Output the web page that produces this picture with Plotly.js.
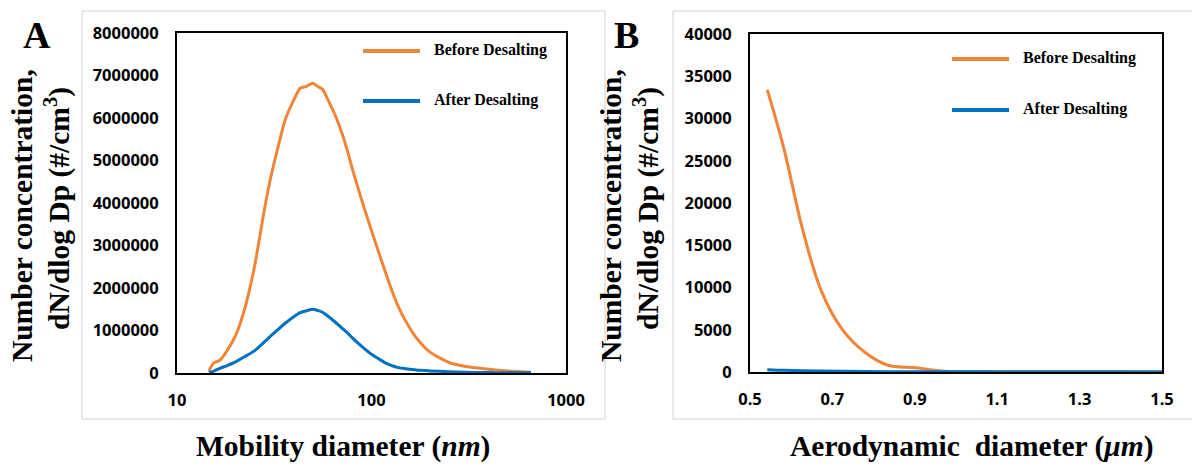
<!DOCTYPE html>
<html>
<head>
<meta charset="utf-8">
<script src="https://cdn.plot.ly/plotly-3.0.1.min.js"></script>
<style>
  html, body { margin: 0; padding: 0; background: #ffffff; }
  #chart { width: 1192px; height: 466px; }
</style>
</head>
<body>
<div id="chart"></div>
<script>
// Panel A: SMPS number size distribution (mobility diameter, nm)
const mobilityDiameter = [14.6, 15.4, 16.6, 18, 20, 22, 25, 28, 30, 33, 36, 40, 43, 46, 50, 53, 56, 60,
  65, 70, 75, 80, 90, 100, 110, 120, 130, 140, 150, 170, 200, 250, 300, 400, 500, 661];
const smpsBefore = [50000, 230000, 300000, 510000, 880000, 1420000, 2490000, 3790000, 4500000, 5300000,
  5960000, 6440000, 6700000, 6740000, 6820000, 6740000, 6680000, 6410000, 6070000, 5680000, 5250000,
  4780000, 4000000, 3350000, 2780000, 2270000, 1830000, 1480000, 1220000, 830000, 490000, 250000,
  160000, 90000, 50000, 20000];
const smpsAfter = [10000, 40000, 110000, 170000, 260000, 370000, 520000, 720000, 850000, 1020000,
  1170000, 1330000, 1420000, 1460000, 1500000, 1470000, 1430000, 1330000, 1200000, 1070000, 950000,
  820000, 610000, 440000, 320000, 220000, 160000, 120000, 100000, 70000, 50000, 30000, 20000, 10000,
  5000, 3000];

// Panel B: APS number size distribution (aerodynamic diameter, µm)
const aerodynamicDiameter = [0.542, 0.583, 0.626, 0.673, 0.723, 0.777, 0.835, 0.898, 0.965, 1.037,
  1.114, 1.197, 1.286, 1.382, 1.486, 1.596];
const apsBefore = [33400, 26300, 17200, 9600, 5100, 2400, 800, 520, 120, 50, 60, 60, 70, 60, 40, 30];
const apsAfter = [280, 200, 150, 110, 80, 60, 40, 30, 20, 15, 12, 10, 10, 8, 6, 5];

const seriesNames = ['Before Desalting', 'After Desalting'];
const seriesColors = ['#EF8538', '#0070C0'];

const mobilityTicks = [10, 100, 1000];
const mobilityTickText = ['10', '100', '1000'];
const aeroTicks = [0.5, 0.7, 0.9, 1.1, 1.3, 1.5];

const panelLabels = ['A', 'B'];
const xTitles = ['Mobility diameter (<i>nm</i>)', 'Aerodynamic  diameter (<i>μm</i>)'];
const yTitleLines = ['Number concentration,', 'dN/dlog Dp (#/cm<sup>3</sup>)'];

// page-pixel helpers for paper coordinates
const W = 1192, H = 466;
const px = v => v / W;
const py = v => 1 - v / H;

const serif = 'Liberation Serif, Times New Roman, serif';
const sans = 'Open Sans, sans-serif';

const traces = [
  { x: mobilityDiameter, y: smpsBefore, name: seriesNames[0], xaxis: 'x', yaxis: 'y',
    mode: 'lines', line: { color: seriesColors[0], width: 3, shape: 'spline', smoothing: 0.6 } },
  { x: mobilityDiameter, y: smpsAfter, name: seriesNames[1], xaxis: 'x', yaxis: 'y',
    mode: 'lines', line: { color: seriesColors[1], width: 3, shape: 'spline', smoothing: 0.8 } },
  { x: aerodynamicDiameter, y: apsBefore, name: seriesNames[0], xaxis: 'x2', yaxis: 'y2',
    mode: 'lines', line: { color: seriesColors[0], width: 3, shape: 'spline', smoothing: 1 } },
  { x: aerodynamicDiameter, y: apsAfter, name: seriesNames[1], xaxis: 'x2', yaxis: 'y2',
    mode: 'lines', line: { color: seriesColors[1], width: 3, shape: 'spline', smoothing: 1 } }
];

const tickFont = { family: sans, size: 16.5, color: '#000000', weight: 'bold' };
const axisCommon = {
  showgrid: false, zeroline: false, showline: true, mirror: true,
  linecolor: '#000000', linewidth: 2, ticks: '', automargin: false,
  tickfont: tickFont, fixedrange: true
};

const annotations = [];
const shapes = [];

// panel frames (light grey boxes)
shapes.push({ type: 'rect', xref: 'paper', yref: 'paper', x0: px(82), x1: px(605), y0: py(419), y1: py(11),
  line: { color: '#d0d0d0', width: 1 }, layer: 'below' });
shapes.push({ type: 'rect', xref: 'paper', yref: 'paper', x0: px(673), x1: px(1200), y0: py(419), y1: py(11),
  line: { color: '#d0d0d0', width: 1 }, layer: 'below' });

const panels = [
  { titleX: 343, labelX: 37, y1X: 22, y2X: 57, legLine: [363, 420], legText: 432, legY: [51, 101] },
  { titleX: 972, labelX: 627, y1X: 611, y2X: 646, legLine: [952, 1009], legText: 1021, legY: [59, 110] }
];

panels.forEach((p, i) => {
  annotations.push({ xref: 'paper', yref: 'paper', x: px(p.labelX), y: py(35), text: panelLabels[i],
    showarrow: false, xanchor: 'center', yanchor: 'middle',
    font: { family: serif, size: 38, color: '#000000', weight: 'bold' } });
  annotations.push({ xref: 'paper', yref: 'paper', x: px(p.titleX), y: py(446), text: xTitles[i],
    showarrow: false, xanchor: 'center', yanchor: 'middle',
    font: { family: serif, size: 29.5, color: '#000000', weight: 'bold' } });
  annotations.push({ xref: 'paper', yref: 'paper', x: px(p.y1X), y: py(216), text: yTitleLines[0],
    showarrow: false, xanchor: 'center', yanchor: 'middle', textangle: -90,
    font: { family: serif, size: 29.5, color: '#000000', weight: 'bold' } });
  annotations.push({ xref: 'paper', yref: 'paper', x: px(p.y2X), y: py(209), text: yTitleLines[1],
    showarrow: false, xanchor: 'center', yanchor: 'middle', textangle: -90,
    font: { family: serif, size: 29.5, color: '#000000', weight: 'bold' } });
  // legend entries
  seriesNames.forEach((name, k) => {
    shapes.push({ type: 'line', xref: 'paper', yref: 'paper',
      x0: px(p.legLine[0]), x1: px(p.legLine[1]), y0: py(p.legY[k]), y1: py(p.legY[k]),
      line: { color: seriesColors[k], width: 4 } });
    annotations.push({ xref: 'paper', yref: 'paper', x: px(p.legText), y: py(p.legY[k] - 1), text: name,
      showarrow: false, xanchor: 'left', yanchor: 'middle',
      font: { family: serif, size: 16, color: '#000000', weight: 'bold' } });
  });
});

const layout = {
  width: W, height: H,
  margin: { l: 0, r: 0, t: 0, b: 0 },
  paper_bgcolor: '#ffffff', plot_bgcolor: '#ffffff',
  showlegend: false,
  xaxis: Object.assign({}, axisCommon, {
    domain: [px(177), px(566)], anchor: 'y', type: 'log', range: [1, 3],
    tickvals: mobilityTicks, ticktext: mobilityTickText, ticklabelstandoff: 11 }),
  yaxis: Object.assign({}, axisCommon, {
    domain: [py(373), py(33)], anchor: 'x', range: [0, 8000000], dtick: 1000000,
    tickformat: 'd', ticklabelstandoff: 13 }),
  xaxis2: Object.assign({}, axisCommon, {
    domain: [px(750), px(1162)], anchor: 'y2', range: [0.5, 1.5],
    tickvals: aeroTicks, tickformat: '.1f', ticklabelstandoff: 11 }),
  yaxis2: Object.assign({}, axisCommon, {
    domain: [py(372), py(34)], anchor: 'x2', range: [0, 40000], dtick: 5000,
    tickformat: 'd', ticklabelstandoff: 13 }),
  annotations: annotations,
  shapes: shapes
};

Plotly.newPlot('chart', traces, layout, { displayModeBar: false, staticPlot: true });
</script>
</body>
</html>
